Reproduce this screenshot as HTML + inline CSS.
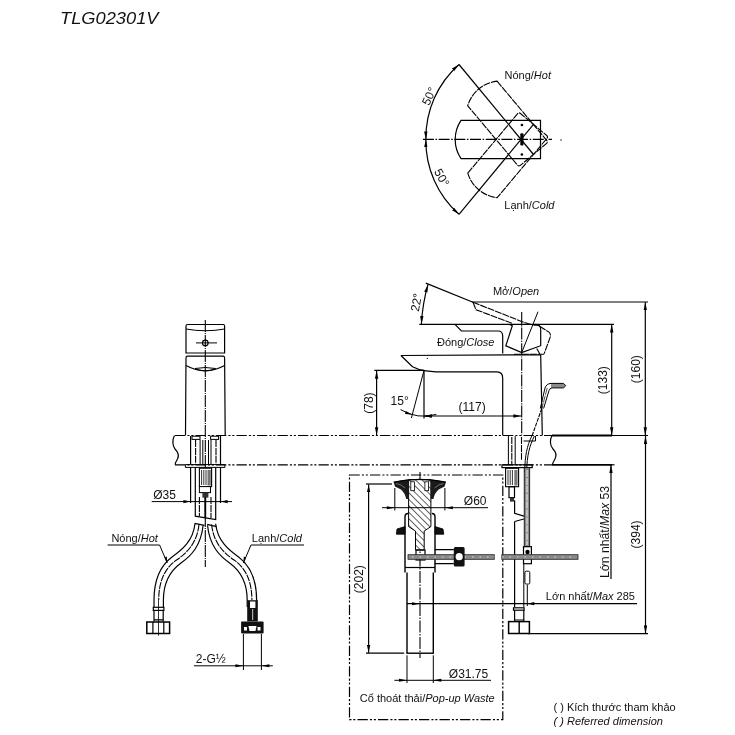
<!DOCTYPE html>
<html><head><meta charset="utf-8"><style>html,body{margin:0;padding:0;background:#fff;width:735px;height:735px;overflow:hidden}svg{display:block;will-change:transform}</style></head><body>
<svg width="735" height="735" viewBox="0 0 735 735">
<defs>
<marker id="ar" viewBox="0 0 8 4" refX="8" refY="2" markerWidth="8" markerHeight="4" markerUnits="userSpaceOnUse" orient="auto-start-reverse"><path d="M0,0.3 L8,2 L0,3.7z" fill="#000"/></marker>
</defs>
<style>
.s{stroke:#000;stroke-width:1.2;fill:none}
.t{stroke:#000;stroke-width:1;fill:none}
.k{stroke:#000;stroke-width:1.8;fill:none}
.cl{stroke:#000;stroke-width:1.2;fill:none;stroke-dasharray:10.3 2.1 2.1 1.8 2.1 2.1}
.cc{stroke:#000;stroke-width:1.1;fill:none;stroke-dasharray:11 1.6 1.5 1.6}
.hd{stroke:#000;stroke-width:1.1;fill:none;stroke-dasharray:7 0.9}
.ar{marker-start:url(#ar);marker-end:url(#ar)}
.ae{marker-end:url(#ar)}
text{font-family:"Liberation Sans",sans-serif;font-size:11px;fill:#111}
.i{font-style:italic}
.n{font-size:12px}
</style>
<!-- title -->
<text x="60" y="24" class="i" style="font-size:16.5px" textLength="98.5" lengthAdjust="spacingAndGlyphs">TLG02301V</text>

<!-- ===== TOP VIEW ===== -->
<g>
<line class="cc" x1="422.9" y1="139.4" x2="552" y2="139.4"/>
<circle cx="561" cy="140" r="0.7" fill="#000"/>
<path class="s ar" d="M459,64.5 A98,98 0 0 0 425.9,139.4"/>
<path class="s ar" d="M459,214.3 A98,98 0 0 1 425.9,139.4"/>
<line class="s" x1="459" y1="64.5" x2="533.5" y2="154.5"/>
<line class="s" x1="459" y1="214.3" x2="533.5" y2="124.3"/>
<g transform="translate(521,139.4)">
<path class="s" d="M-60,-19.1 L19.5,-19.1 L19.5,19.2 L-60,19.2 A34.5,34.5 0 0 1 -60,-19.1 Z"/>
<path class="hd" transform="rotate(50)" d="M-60,-19.1 L17.5,-19.1 Q19.5,-19.1 19.5,-17.1 L19.5,17.2 Q19.5,19.2 17.5,19.2 L-60,19.2 A34.5,34.5 0 0 1 -60,-19.1 Z"/>
<path class="hd" transform="rotate(-50)" d="M-60,-19.1 L17.5,-19.1 Q19.5,-19.1 19.5,-17.1 L19.5,17.2 Q19.5,19.2 17.5,19.2 L-60,19.2 A34.5,34.5 0 0 1 -60,-19.1 Z"/>
<circle cx="0.9" cy="-14.4" r="1.3" fill="#000"/>
<circle cx="0.9" cy="15.1" r="1.3" fill="#000"/>
<rect x="-0.7" y="-6.2" width="3.2" height="12.4" rx="1" fill="#000"/>
</g>
<text x="504.5" y="78.8">Nóng/<tspan class="i">Hot</tspan></text>
<text x="504.3" y="208.9">Lạnh/<tspan class="i">Cold</tspan></text>
<text transform="translate(429.2,96.3) rotate(-65)" text-anchor="middle" dy="4" class="n">50°</text>
<text transform="translate(441.6,177.6) rotate(61)" text-anchor="middle" dy="4" class="n">50°</text>
</g>
<!-- ===== COUNTER ===== -->
<line class="cl" x1="175" y1="435.5" x2="552" y2="435.5"/>
<line class="cl" x1="175" y1="464.8" x2="552" y2="464.8"/>
<line class="k" x1="552" y1="435.5" x2="612" y2="435.5"/>
<line class="s" x1="612" y1="435.5" x2="648" y2="435.5"/>
<line class="k" x1="552" y1="464.8" x2="612" y2="464.8"/>
<line class="s" x1="612" y1="464.8" x2="614.5" y2="464.8"/>
<path class="s" d="M174.5,435.5 C172,440 172.5,446 175,449 C178,452 179.5,455 177.5,459 C176,461.5 175,463 175.2,464.8"/>
<path class="s" d="M552,435.5 C549.5,440 550,446 553,449 C556,452 557,455 555,459 C553.5,461.5 552.5,463 552.6,464.8"/>

<!-- ===== FRONT VIEW ===== -->
<g>
<line class="cc" x1="205.3" y1="320" x2="205.3" y2="567" style="stroke-dasharray:12 1 1 1"/>
<path class="s" d="M186,353 L186,326 Q186,324.5 187.5,324.5 L223.1,324.5 Q224.6,324.5 224.6,326 L224.6,353 Z"/>
<path class="t" d="M186,329 Q205.3,332.5 224.6,329"/>

<path class="s" d="M185.5,435.3 L186,358 Q186,356.2 187.5,356.2 L223.1,356.2 Q224.6,356.2 224.6,358 L225.2,435.3"/>
<path class="s" d="M186,365.5 Q205.3,376 224.6,365.5"/>
<path class="t" d="M195,368.5 Q205.3,373.5 215.6,368.5 Q205.3,366.5 195,368.5"/>
<circle class="s" cx="205.3" cy="342.9" r="2.8"/>
<line class="t" x1="196" y1="342.9" x2="217" y2="342.9"/>
<!-- below counter -->
<path class="t" d="M185.4,464.6 H224.9 M185.4,467.4 H224.9 M185.4,464.6 V467.4 M224.9,464.6 V467.4"/>
<path class="s" d="M190.6,436 V464.6 M220.5,436 V464.6"/>
<path class="hd" d="M195.6,440 V464.6 M216,440 V464.6"/>
<path class="t" d="M200.1,440 V464.6 M202.8,440 V464.6 M208.5,440 V464.6 M211,440 V464.6"/>
<rect class="t" x="192" y="436.2" width="8" height="3.2"/>
<rect class="t" x="210.6" y="436.2" width="8" height="3.2"/>
<path class="s" d="M190.6,467.4 V503 M220.5,467.4 V503"/>
<path class="s" d="M195.3,467.4 V516.2 L215.7,519.6 V467.4"/>
<path class="hd" d="M199.4,497 V516 M211,497 V518"/>
<rect x="199.4" y="468.2" width="12.2" height="18.4" fill="#fff" stroke="#000" stroke-width="1.1"/>
<path d="M201.6,470 V485 M203.8,470 V485 M206,470 V485" stroke="#000" stroke-width="0.8"/>
<rect x="207.5" y="470" width="3.3" height="15.5" fill="#777"/>
<rect x="199.4" y="486.6" width="11.1" height="6" fill="#fff" stroke="#000" stroke-width="1"/>
<rect x="202.4" y="492.6" width="6" height="5" fill="#333"/>
<line x1="205.3" y1="497" x2="205.3" y2="518" stroke="#000" stroke-width="1.8"/>
<!-- dim 35 -->
<line class="t" x1="151.7" y1="501.6" x2="232" y2="501.6"/>
<path d="M190.4,501.6 l-7,-1.6 v3.2z M220.6,501.6 l7,-1.6 v3.2z" fill="#000"/>
<text x="153.2" y="498.6" class="n">Ø35</text>
<!-- hoses -->
<path class="s" d="M195,523.7 C193,541 182,550 172,557 C160,566 154,580 154,600 L154,607"/>
<path class="s" d="M203.1,525.3 C201,546 191,556 181,563 C170,571 163.4,583 163.4,600 L163.4,607"/>
<path class="hd" d="M199,524.5 C197,543 187,553 176.5,560 C165,568 158.7,581 158.7,600"/>
<path class="s" d="M194.6,523.3 L204.5,525.4"/>
<path class="s" d="M215.6,523.7 C217.6,541 228.6,550 238.6,557 C250.6,566 256.6,580 256.6,600 L256.6,607"/>
<path class="s" d="M207.5,525.3 C209.6,546 219.6,556 229.6,563 C240.6,571 247.2,583 247.2,600 L247.2,607"/>
<path class="hd" d="M211.6,524.5 C213.6,543 223.6,553 234.1,560 C245.6,568 251.9,581 251.9,600"/>
<path class="s" d="M207.2,524.4 L216.7,526.7"/>
<!-- left fitting -->
<rect class="s" x="153.3" y="607.3" width="10.6" height="3.1" fill="#fff"/>
<path class="s" d="M154,610.4 V621.5 M163.2,610.4 V621.5 M154,619.9 H163.2"/>
<rect x="146.8" y="622" width="22.8" height="11.5" fill="#fff" stroke="#000" stroke-width="1.5"/>
<path class="s" d="M152.9,622 V633.5 M163.8,622 V633.5"/>
<line class="t" x1="158.5" y1="600" x2="158.5" y2="635.6" style="stroke-width:0.8"/>
<!-- right fitting -->
<rect x="247.2" y="600.2" width="10.6" height="21.2" fill="#111"/>
<rect x="250" y="601.5" width="5.4" height="6.5" fill="#fff"/>
<line x1="252.7" y1="609" x2="252.7" y2="620" stroke="#fff" stroke-width="0.8"/>
<rect x="241.1" y="621.6" width="22.5" height="11.9" rx="1" fill="#111"/>
<rect x="244" y="627" width="3" height="3.5" fill="#fff"/>
<rect x="257.5" y="627" width="3" height="3.5" fill="#fff"/>
<path d="M248.5,626 H256.5 L255.5,631 H249.5z" fill="#fff"/>
<!-- labels -->
<text x="111.4" y="541.6">Nóng/<tspan class="i">Hot</tspan></text>
<path class="t" d="M107.6,545 H159.6 L167.2,562.9"/>
<path d="M167.2,562.9 l-2.8,-5.5 l2.4,-1z" fill="#000"/>
<text x="251.8" y="541.8">Lạnh/<tspan class="i">Cold</tspan></text>
<path class="t" d="M304,545 H251 L243.4,562.9"/>
<path d="M243.4,562.9 l2.8,-5.5 l-2.4,-1z" fill="#000"/>
<!-- 2-G1/2 -->
<path class="t" d="M243.4,634 V670 M261.4,634 V670"/>
<line class="t" x1="193.9" y1="665.8" x2="272.8" y2="665.8"/>
<path d="M243.4,665.8 l-8,-1.5 v3z M261.4,665.8 l8,-1.5 v3z" fill="#000"/>
<text x="195.8" y="662.7" class="n">2-G½</text>
</g>
<!-- ===== SIDE VIEW ===== -->
<g>
<!-- handle & angle -->
<line class="s" x1="419.3" y1="324.3" x2="614" y2="324.3"/>
<line class="s" x1="472" y1="302" x2="648" y2="302"/>
<line class="s" x1="425.8" y1="283.1" x2="473" y2="302.2"/>
<path class="s ar" d="M428,284.4 A180,180 0 0 0 421.4,324"/>
<text class="n" transform="translate(416.4,302.4) rotate(-80)" text-anchor="middle" dy="4">22°</text>
<text x="492.9" y="295.4">Mở/<tspan class="i">Open</tspan></text>
<text x="437" y="345.7">Đóng/<tspan class="i">Close</tspan></text>
<!-- closed handle -->
<path class="s" d="M535.3,324.3 Q540.7,324.5 540.7,329.4 L540.7,345.7 L521.7,352.6 L505.8,345.8 L512.3,325.8 L509,324.3"/>
<path class="s" d="M455,324.3 L461.4,331 L498,331 Q502.7,331 502.7,336 L502.7,353.5"/>
<!-- open handle dashed -->
<path class="hd" d="M473,302.2 L524.4,322.6 Q531,325 538,325.3 L549,332.1 Q551,334 550.3,336.9 L544.1,353.9"/>
<path class="hd" d="M473,302.2 L476,309.7 L512.2,323.3"/>
<path class="hd" d="M536.7,348.5 L540,354.2 M514,354.2 H544.1"/>
<line class="cc" x1="521.7" y1="312" x2="521.7" y2="436" style="stroke-dasharray:12 1.2 1.2 1.2"/>
<line class="t" x1="521.7" y1="352.6" x2="538" y2="311.7"/>
<!-- spout/body -->
<line class="s" x1="400.9" y1="355.5" x2="540.7" y2="354.8"/>
<path class="s" d="M400.9,355.5 L412.5,366.8 C417,369.3 421,370.2 426,370.8 L436,371.9 L497,371.9 Q502.7,372 502.7,378 L502.7,435.5"/>
<line class="s" x1="540.7" y1="354.8" x2="542.3" y2="435.5"/>
<circle cx="427.3" cy="358.4" r="0.6" fill="#000"/>
<!-- lift rod above counter -->
<path d="M551,383.6 L563.5,383.6 L565.6,385.7 L563.5,387.8 L551,387.8z" fill="#8a8a8a"/>
<path class="t" d="M563.5,383.4 L551,383.4 Q546.5,383.6 545,388 L540.3,408.5 M563.5,387.9 L552,387.9 Q549.8,388.2 549,390.5 L543.6,408.5 M563.5,383.4 L565.8,385.7 L563.5,387.9"/>
<path class="hd" d="M547.2,388 L542,408" style="stroke-width:0.7"/>
<path class="hd" d="M541.8,408.5 L532,436" style="stroke-dasharray:4 1"/>
<path class="t" d="M531.8,436 C527,446 525,455 524.7,472 M534.4,436 C529.5,446 527,455 526.6,472"/>
<path class="t" d="M523.5,441 H535.5 L535.5,436"/>
<path class="hd" d="M521.5,437 V460"/>
<path class="t" d="M508.4,436 V464.8 M515.2,436 V464.8"/>
<path class="hd" d="M511.8,437 V464"/>
<!-- dims -->
<line class="s" x1="374.3" y1="370.4" x2="424" y2="370.4"/>
<line class="s ar" x1="376.6" y1="370.8" x2="376.6" y2="435.2"/>
<text class="n" transform="translate(368.8,403.1) rotate(-90)" text-anchor="middle" dy="4">(78)</text>
<line class="s" x1="424" y1="370.4" x2="424" y2="418.6"/>
<line class="t" x1="424" y1="370.4" x2="411.4" y2="418"/>
<path class="t" d="M400.5,409.6 A45.7,45.7 0 0 0 436.4,414.4"/>
<path d="M412.2,414.5 L405.8,411.1 L405.0,414.0z M424,416.1 l7,-1.4 v2.8z" fill="#000"/>
<text class="n" x="390.6" y="405.1">15°</text>
<line class="s ar" x1="424.3" y1="416" x2="521.4" y2="416"/>
<text class="n" x="458.5" y="410.5">(117)</text>
<line class="s ar" x1="611.7" y1="324.6" x2="611.7" y2="435.2"/>
<text class="n" transform="translate(603.2,380.2) rotate(-90)" text-anchor="middle" dy="4">(133)</text>
<line class="s ar" x1="645.3" y1="302.3" x2="645.3" y2="435.2"/>
<text class="n" transform="translate(636,369.2) rotate(-90)" text-anchor="middle" dy="4">(160)</text>
<line class="s ar" x1="645.5" y1="435.9" x2="645.5" y2="633.4"/>
<text class="n" transform="translate(635.6,534.4) rotate(-90)" text-anchor="middle" dy="4">(394)</text>
<line class="s" x1="528" y1="633.7" x2="648" y2="633.7"/>
<line class="s" x1="611" y1="579" x2="611" y2="465.1" style="marker-end:url(#ar)"/>
<text transform="translate(604.2,532) rotate(-90)" text-anchor="middle" dy="4.3" style="font-size:12px" textLength="92" lengthAdjust="spacingAndGlyphs">Lớn nhất/<tspan class="i">Max</tspan> 53</text>
<line class="s" x1="407" y1="603.7" x2="637" y2="603.7"/>
<path d="M420,603.7 l-8,-1.5 v3z M527.3,603.7 l7,-1.6 v3.2z" fill="#000"/>
<line class="t" x1="527.3" y1="585" x2="527.3" y2="606"/>
<text x="545.8" y="599.7">Lớn nhất/<tspan class="i">Max</tspan> 285</text>
<!-- below counter side -->
<rect class="s" x="502" y="464.8" width="30.2" height="2.8"/>
<rect x="505.6" y="468.3" width="13" height="18.4" fill="#fff" stroke="#000" stroke-width="1.1"/>
<path d="M508,470 V485 M510.2,470 V485 M512.4,470 V485" stroke="#000" stroke-width="0.8"/>
<rect x="514.3" y="470" width="3.3" height="15.5" fill="#777"/>
<rect class="s" x="509" y="486.7" width="5.5" height="10.9" fill="#fff"/>
<rect x="510" y="497.6" width="4" height="4" fill="#333"/>
<path class="s" d="M514.6,500.3 V513.4 L523.9,516.1"/>
<path class="s" d="M514.6,521.5 L523.9,519 M514.6,521.5 V607"/>
<rect x="524.2" y="467.6" width="5.5" height="79" fill="#888" stroke="#000" stroke-width="0.8"/>
<path class="hd" d="M527,470 V545" stroke="#fff" style="stroke:#eee"/>
<rect x="523.5" y="546.7" width="7.9" height="17" fill="#fff" stroke="#000" stroke-width="1.2"/>
<circle cx="527.5" cy="552" r="2.2" fill="#000"/>
<rect x="524.9" y="571.2" width="4.9" height="12.9" rx="1.5" fill="#fff" stroke="#000" stroke-width="1"/>
<line class="t" x1="523.8" y1="564" x2="523.8" y2="607"/>
<rect class="s" x="513.5" y="607.8" width="10.6" height="2.4" fill="#fff"/>
<path class="s" d="M514.6,610.2 V621.4 M523.8,610.2 V621.4 M514.6,620 H523.8"/>
<rect x="508.6" y="621.6" width="20.8" height="11.9" fill="#fff" stroke="#000" stroke-width="1.5"/>
<line class="s" x1="519.2" y1="621.6" x2="519.2" y2="633.5" style="stroke-width:1.4"/>
</g>
<!-- ===== POP-UP WASTE ===== -->
<g>
<rect class="cl" x="349.5" y="475" width="153.3" height="244.7"/>
<line class="s ar" x1="368.6" y1="484.4" x2="368.6" y2="652.8"/>
<line class="s" x1="366" y1="484" x2="392" y2="484"/>
<line class="s" x1="366" y1="653.2" x2="404.2" y2="653.2"/>
<text class="n" transform="translate(358.7,579.2) rotate(-90)" text-anchor="middle" dy="4">(202)</text>
<line class="cc" x1="420" y1="472" x2="420" y2="658" style="stroke-dasharray:12 1.5 1.5 1.5"/>
<!-- cap -->
<defs><pattern id="hp" width="4.6" height="4.6" patternUnits="userSpaceOnUse" patternTransform="rotate(-45)"><rect width="4.6" height="4.6" fill="#fff"/><line x1="0" y1="0" x2="0" y2="4.6" stroke="#000" stroke-width="1.2"/></pattern></defs>
<!-- body -->
<path class="k" d="M405,572.4 V517 Q405,513.5 408,513.5 M435,572.4 V517 Q435,513.5 432,513.5" style="stroke-width:1.4"/>
<path d="M405,526.6 L397,529 L396.4,534.2 L405,534.2z M435,526.6 L443,529 L443.8,534.2 L435,534.2z" fill="#111" stroke="#000" stroke-width="0.8"/>
<line class="s" x1="405" y1="567.5" x2="435" y2="567.5"/>
<path d="M408.6,479.6 H430.9 V526.6 L424.2,531 V550 H415.5 V531 L408.6,526.6 Z" fill="url(#hp)" stroke="#000" stroke-width="1"/>
<path d="M393.7,482.2 Q400,480.2 408.8,479.6 L408.8,499 L406.2,499 Q405,493 401,489.5 L395,486.5 Z" fill="#1a1a1a"/>
<path d="M396,483.5 Q401,484 405,488" stroke="#888" stroke-width="0.8" fill="none"/>
<path d="M445.9,482.2 Q439.6,480.2 430.8,479.6 L430.8,499 L433.4,499 Q434.6,493 438.6,489.5 L444.6,486.5 Z" fill="#1a1a1a"/>
<path d="M443.6,483.5 Q438.6,484 434.6,488" stroke="#888" stroke-width="0.8" fill="none"/>
<path class="s" d="M393.7,482.2 Q419.8,476.5 445.9,482.2"/>
<rect x="410.8" y="481.8" width="3.7" height="8.9" fill="#fff" stroke="#000" stroke-width="0.8"/>
<rect x="424.9" y="481.8" width="3.7" height="8.9" fill="#fff" stroke="#000" stroke-width="0.8"/>
<rect class="s" x="416" y="550" width="9" height="10" fill="#fff"/>
<!-- tailpipe -->
<path class="k" d="M407,572.4 V653 M433.3,572.4 V653" style="stroke-width:1.4"/>
<line class="k" x1="406.3" y1="653.2" x2="434" y2="653.2" style="stroke-width:1.4"/>
<!-- pivot -->
<rect x="408" y="554.7" width="86.3" height="4.6" fill="#8a8a8a" stroke="#222" stroke-width="0.8"/>
<rect x="501.8" y="554.7" width="76.2" height="4.6" fill="#8a8a8a" stroke="#222" stroke-width="0.8"/>
<path d="M412,557 H576" stroke="#eee" stroke-width="0.8" stroke-dasharray="1.5 6"/>
<path class="s" d="M434.7,549.6 H453.8 M434.7,563.7 H453.8" style="stroke-width:1.3"/>
<rect x="453.8" y="546.9" width="10.8" height="19.6" rx="1.5" fill="#111"/>
<circle cx="459.2" cy="556.7" r="3.6" fill="#fff"/>
<!-- dims -->
<path class="t" d="M394.8,488 V510.5 M444.9,488 V510.5"/>
<line class="t" x1="382" y1="507.7" x2="488" y2="507.7"/>
<path d="M394.8,507.7 l-8,-1.5 v3z M444.9,507.7 l8,-1.5 v3z" fill="#000"/>
<text class="n" x="463.8" y="505">Ø60</text>
<path class="t" d="M407,655.3 V683 M433.3,655.3 V683"/>
<line class="t" x1="394.4" y1="680.3" x2="491" y2="680.3"/>
<path d="M407,680.3 l-8,-1.5 v3z M433.3,680.3 l8,-1.5 v3z" fill="#000"/>
<text class="n" x="448.8" y="677.5">Ø31.75</text>
<text x="359.8" y="701.8">Cổ thoát thải/<tspan class="i">Pop-up Waste</tspan></text>
</g>
<!-- legend -->
<text x="553.5" y="710.5">( ) Kích thước tham khảo</text>
<text x="553.5" y="725.2" class="i">( ) Referred dimension</text>

</svg></body></html>
